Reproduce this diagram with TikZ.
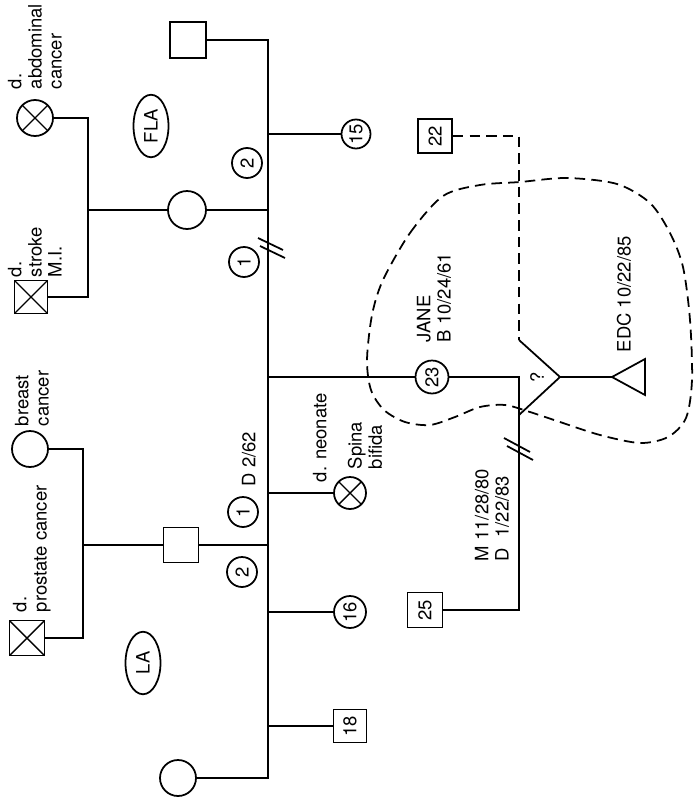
\documentclass[tikz,border=0pt]{standalone}
\usepackage{fontspec}
\setmainfont{TeX Gyre Heros}
\usepackage{graphicx}
\usetikzlibrary{calc,shapes.geometric}
\newcommand\vtext[1]{\rotatebox{90}{#1}}

\begin{document}
\begin{tikzpicture}[x=.02cm,y=-.02cm,line width=1pt,
 every node/.style={font=\fontsize{10.5}{11.5}\selectfont},
 sq/.style={draw,rectangle,minimum size=.7cm,inner sep=0pt},
 fem/.style={draw,circle,minimum size=.72cm,inner sep=0pt},
 num/.style={draw,circle,minimum size=.6cm,inner sep=0pt},
 dead/.style={path picture={\draw[line width=.8pt] (path picture bounding box.north west)--(path picture bounding box.south east)
   (path picture bounding box.south west)--(path picture bounding box.north east);}},
 grp/.style={draw,ellipse,minimum width=.7cm,minimum height=1.25cm,inner sep=0pt},
 lab/.style={rotate=90,anchor=north west,align=left,inner sep=0pt},
 dsh/.style={dash pattern=on 6pt off 3.5pt}]
\useasboundingbox (0,0) rectangle (698,805);
\coordinate (stem) at (268,0); \coordinate (flap) at (88,0); \coordinate (lap) at (83,0); \coordinate (jstem) at (519,0);
\node[fem,dead] (abd) at (35,118) {};
\node[sq,dead,minimum size=.66cm] (strk) at (31,297) {};
\node[fem,minimum size=.76cm] (flam) at (187,210) {};
\node[sq,minimum size=.72cm] (flaf) at (188,40) {};
\node[fem,minimum size=.58cm] (n15) at (356,134) {\vtext{15}};
\node[grp] (fla) at (151,126) {\vtext{FLA}};
\node[num] (fla2) at (247,163) {\vtext{2}};
\node[num] (fla1) at (244,262) {\vtext{1}};
\node[fem] (brc) at (30,449) {};
\node[sq,dead] (prc) at (27,638) {};
\node[sq] (laf) at (181,545) {};
\node[num] (la1) at (243,512) {\vtext{1}};
\node[num] (la2) at (242,572) {\vtext{2}};
\node[fem,dead,minimum size=.64cm] (neo) at (350,493) {};
\node[fem,minimum size=.64cm] (n16) at (350,612) {\vtext{16}};
\node[sq,minimum size=.66cm] (n18) at (350,726) {\vtext{18}};
\node[fem] (lam) at (178,778) {};
\node[grp] (la) at (143,663) {\vtext{LA}};
\node[fem,minimum size=.66cm] (jane) at (432,377) {\vtext{23}};
\node[sq] (n25) at (425,610) {\vtext{25}};
\node[sq,minimum size=.68cm] (n22) at (435,136) {\vtext{22}};
\draw (abd.east)--(abd -| flap)--(strk -| flap)--(strk.east); \draw (flam.west)--(flam -| flap);
\draw (flaf.east)--(flaf -| stem)--(lam -| stem)--(lam.east);
\draw (flam.east)--(flam -| stem); \draw (n15.west)--(n15 -| stem);
\draw (brc.east)--(brc -| lap)--(prc -| lap)--(prc.east); \draw (laf.west)--(laf -| lap); \draw (laf.east)--(laf -| stem);
\draw (neo.west)--(neo -| stem); \draw (n16.west)--(n16 -| stem); \draw (n18.west)--(n18 -| stem);
\draw (jane.west)--(jane -| stem); \draw (jane.east)--(jane -| jstem)--(n25 -| jstem)--(n25.east);
\coordinate (bk1) at (271,247); \coordinate (bk2) at (518,447);
\draw ([shift={(-13,-9)}]bk1)--++(25,12) ([shift={(-11,-1)}]bk1)--++(25,12);
\draw ([shift={(-14,-9)}]bk2)--++(26,14) ([shift={(-11,-1)}]bk2)--++(26,14);
\coordinate (pa) at (519,340); \coordinate (pt) at (560,377); \coordinate (pb) at (519,415); \coordinate (edc) at (612,377);
\draw (pa)--(pt)--(pb); \node[rotate=90,inner sep=0pt] (q) at (537,377) {?};
\draw (pt)--(edc); \draw (edc)--++(33,-18)--++(0,36)--cycle;
\draw[dsh] (n22.east)--(n22 -| jstem)--(pa);
\draw[dsh] plot[smooth cycle] coordinates {(383,280) (410,233) (443,196) (480,185) (520,182) (567,178) (617,184) (650,203) (670,233) (683,267)
 (690,320) (692,380) (686,418) (668,437) (640,443) (600,435) (560,422) (530,412) (505,405) (480,407) (455,417) (430,425) (405,422)
 (384,410) (371,390) (367,360) (372,315)};
\node[lab] (abdl) at (7,90) {d.\\abdominal\\cancer};
\node[lab] (strkl) at (7,278) {d.\\stroke\\M.I.};
\node[lab] (brcl) at (14,427) {breast\\cancer};
\node[lab] (prcl) at (12,613) {d.\\prostate cancer};
\node[lab] (neol) at (312,483) {d. neonate};
\node[lab] (sbl) at (347,470) {Spina\\bifida};
\node[lab] (la1l) at (241,487) {D 2/62};
\node[lab] (janel) at (416,343) {JANE\\B 10/24/61};
\node[lab] (edcl) at (616,353) {EDC 10/22/85};
\node[lab] (marl) at (474,562) {M 11/28/80\\D\ \ 1/22/83};
\end{tikzpicture}
\end{document}
